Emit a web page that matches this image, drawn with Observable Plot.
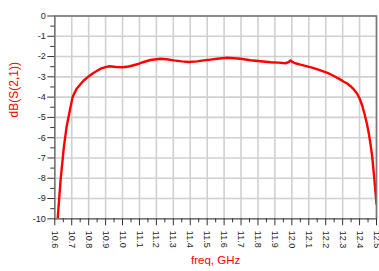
<!DOCTYPE html>
<html>
<head>
<meta charset="utf-8">
<script src="https://cdn.jsdelivr.net/npm/d3@7"></script>
<script src="https://cdn.jsdelivr.net/npm/@observablehq/plot@0.6"></script>
<style>
  html, body { margin: 0; padding: 0; background: #fff; }
</style>
</head>
<body>
<div id="chart"></div>
<script>
const freq = [10.617, 10.634, 10.653, 10.669, 10.689, 10.705, 10.728, 10.75, 10.771, 10.80,
  10.821, 10.85, 10.870, 10.90, 10.919, 10.95, 10.969, 11.0, 11.037, 11.06,
  11.087, 11.12, 11.165, 11.224, 11.26, 11.303, 11.35, 11.392, 11.44, 11.480,
  11.52, 11.559, 11.618, 11.66, 11.697, 11.756, 11.80, 11.874, 11.92, 11.963,
  11.98, 11.992, 12.005, 12.02, 12.051, 12.091, 12.13, 12.169, 12.21, 12.248,
  12.28, 12.307, 12.327, 12.345, 12.366, 12.385, 12.401, 12.415, 12.429, 12.443,
  12.455, 12.466, 12.475, 12.488, 12.5];
const s21 = [-10.0, -8.1, -6.5, -5.5, -4.65, -4.0, -3.6, -3.38, -3.18, -2.98,
  -2.85, -2.70, -2.60, -2.52, -2.48, -2.50, -2.52, -2.53, -2.49, -2.44,
  -2.38, -2.28, -2.17, -2.11, -2.13, -2.19, -2.24, -2.27, -2.24, -2.19,
  -2.15, -2.11, -2.06, -2.08, -2.11, -2.18, -2.22, -2.28, -2.30, -2.33,
  -2.28, -2.19, -2.28, -2.33, -2.40, -2.48, -2.57, -2.68, -2.80, -2.96,
  -3.10, -3.24, -3.33, -3.45, -3.62, -3.82, -4.08, -4.40, -4.82, -5.30,
  -5.81, -6.40, -6.96, -8.11, -9.26];
const xTicks = [10.6, 10.7, 10.8, 10.9, 11.0, 11.1, 11.2, 11.3, 11.4, 11.5,
  11.6, 11.7, 11.8, 11.9, 12.0, 12.1, 12.2, 12.3, 12.4, 12.5];
const xMinor = [10.65, 10.75, 10.85, 10.95, 11.05, 11.15, 11.25, 11.35, 11.45, 11.55,
  11.65, 11.75, 11.85, 11.95, 12.05, 12.15, 12.25, 12.35, 12.45];
const yTicks = [0, -1, -2, -3, -4, -5, -6, -7, -8, -9, -10];
const yMinor = [-0.5, -1.5, -2.5, -3.5, -4.5, -5.5, -6.5, -7.5, -8.5, -9.5];
const xLabel = "freq, GHz";
const yLabel = "dB(S(2,1))";

const data = freq.map((f, i) => ({f, v: s21[i]}));

const chart = Plot.plot({
  width: 379,
  height: 271,
  marginTop: 15.5,
  marginBottom: 52.7,
  marginLeft: 54.3,
  marginRight: 3,
  style: {fontFamily: "'Liberation Sans', Arial, sans-serif", fontSize: "9px", background: "#fff"},
  x: {domain: [10.6, 12.5]},
  y: {domain: [-10, 0]},
  marks: [
    Plot.ruleX(xTicks, {x: d => d, stroke: "#d0d0d0", strokeWidth: 1.6}),
    Plot.ruleY(yTicks, {y: d => d, stroke: "#d0d0d0", strokeWidth: 1.6}),
    Plot.line(data, {x: "f", y: "v", stroke: "#ff0000", strokeWidth: 2.4, clip: true}),
    Plot.frame({stroke: "#777", strokeWidth: 1.6}),
    Plot.axisY(yTicks, {tickSize: 7, tickPadding: 2, tickFormat: d => String(d), fill: "#222", stroke: "#333", label: null}),
    Plot.axisY(yMinor, {tickSize: 4, tickFormat: () => "", stroke: "#333", label: null}),
    Plot.axisX(xTicks, {tickSize: 7, tickPadding: 5, tickRotate: 90, tickFormat: d => d.toFixed(1), fill: "#222", stroke: "#333", label: null}),
    Plot.axisX(xMinor, {tickSize: 4, tickFormat: () => "", stroke: "#333", label: null}),
    Plot.text([yLabel], {frameAnchor: "left", dx: -41, rotate: -90, fill: "#ff0000", fontSize: 12, text: d => d}),
    Plot.text([xLabel], {frameAnchor: "bottom", dy: 45, fill: "#ff0000", fontSize: 11.5, text: d => d})
  ]
});
document.getElementById("chart").appendChild(chart);
</script>
</body>
</html>
